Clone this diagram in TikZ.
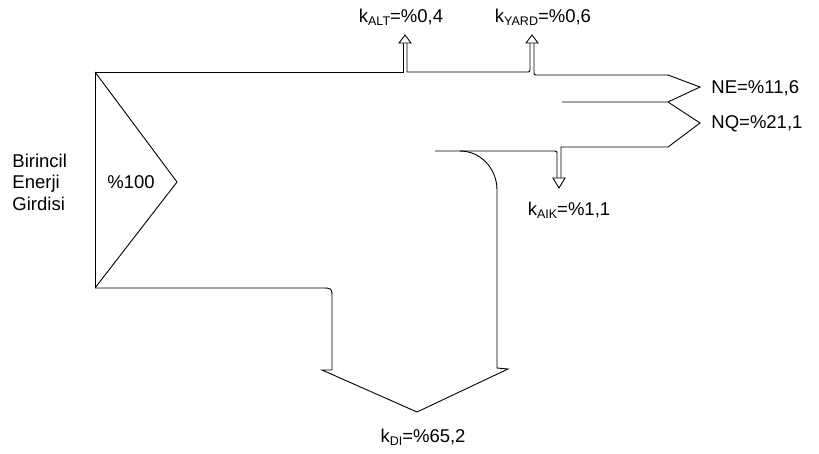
\documentclass[tikz,border=0pt]{standalone}
\usepackage{fontspec}
\setmainfont{Liberation Sans}
\newcommand{\sbx}[1]{\raisebox{-0.3ex}{\fontsize{12.5}{12.5}\selectfont #1}}
\begin{document}
\begin{tikzpicture}[x=1pt,y=-1pt, line width=0.9pt, line join=miter,
  lbl/.style={font=\fontsize{18.5}{18.5}\selectfont, inner sep=0pt},
  flow/.style={draw=black, line width=0.9pt},
  headtri/.style={draw=black, line width=0.9pt, fill=white}]
\useasboundingbox (0,0) rectangle (819,453);
% input block
\draw[flow] (95,72) -- (95,288);
\draw[flow] (95,72) -- (177,182) -- (95,288);
% top edge and ALT arrow
\draw[flow] (95,72) -- (403,72) -- (403,43);
\draw[flow] (407,43) -- (407,72) -- (526,72) .. controls (530,72) .. (530,68) -- (530,43);
\draw[headtri] (399,43) -- (405,35) -- (411,43) -- cycle;
% YARD arrow
\draw[flow] (534,43) -- (534,71) .. controls (534,75) .. (538,75) -- (668,75);
\draw[headtri] (526,43) -- (532,35) -- (538,43) -- cycle;
% output arrows NE and NQ
\draw[flow] (668,75) -- (700,87) -- (668,102) -- (562,102);
\draw[flow] (668,102) -- (700,123) -- (668,147) -- (561,147) -- (561,178);
% AIK arrow
\draw[flow] (557,178) -- (557,155) .. controls (557,151) .. (553,151) -- (435,151);
\draw[headtri] (553,178) -- (559,188) -- (565,178) -- cycle;
% DI arrow
\draw[flow] (460,151) .. controls (481,151) and (497,169) .. (497,190) -- (497,368) -- (508,369) -- (417,412) -- (322,370) -- (332,370) -- (332,298) .. controls (332,288) .. (322,288) -- (95,288);
% labels
\node[lbl, align=left, anchor=west] (src) at (12,182) {Birincil\\[3pt]Enerji\\[3pt]Girdisi};
\node[lbl] (p100) at (131,182) {\%100};
\node[lbl] (alt) at (401,17) {k\sbx{ALT}=\%0,4};
\node[lbl] (yard) at (543,17) {k\sbx{YARD}=\%0,6};
\node[lbl, anchor=west] (ne) at (711,88) {NE=\%11,6};
\node[lbl, anchor=west] (nq) at (711,124) {NQ=\%21,1};
\node[lbl] (aik) at (569,210) {k\sbx{AIK}=\%1,1};
\node[lbl] (di) at (423,437) {k\sbx{DI}=\%65,2};
\end{tikzpicture}
\end{document}
